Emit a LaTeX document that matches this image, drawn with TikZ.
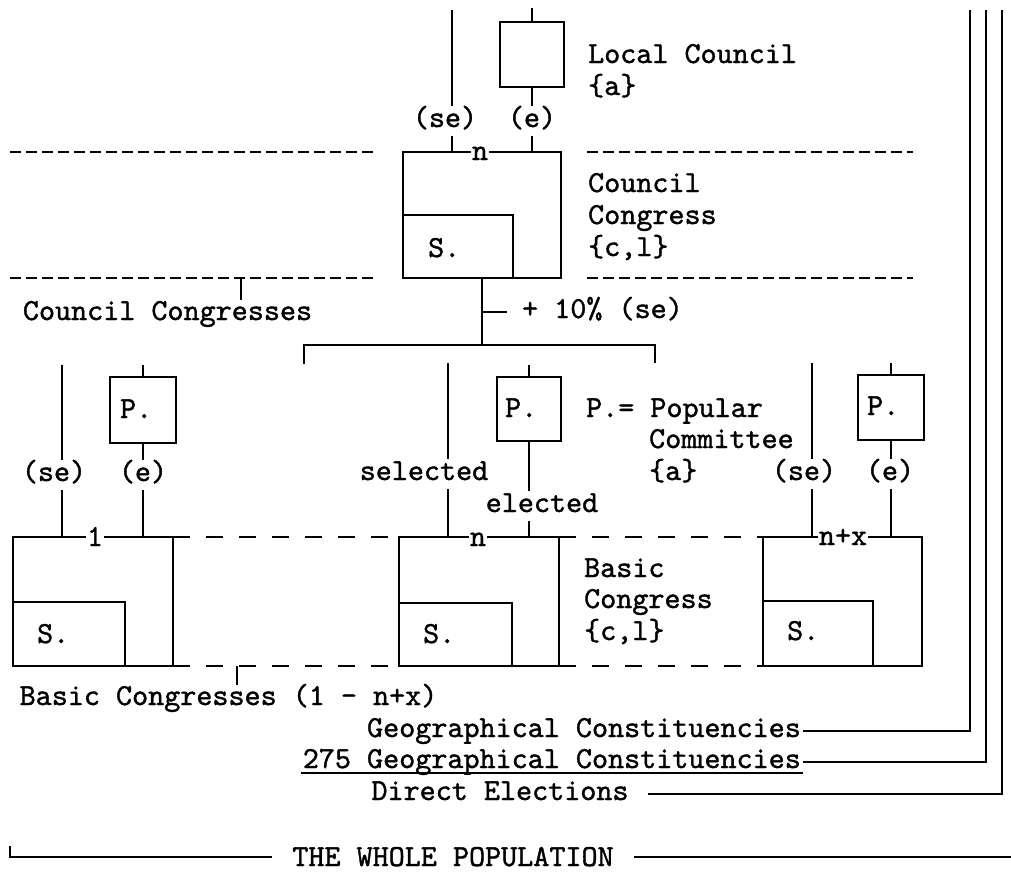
\documentclass[tikz,border=0pt]{standalone}
\usepackage{fontspec}
\newfontfamily\typew{lmmono10-regular.otf}[FakeBold=1.2]
\begin{document}
\begin{tikzpicture}[x=1pt,y=-1pt,line width=2.3pt,
  every node/.style={font=\typew\fontsize{30.6}{32}\selectfont},
  box/.style={draw,inner sep=0pt,outer sep=0pt},
  txt/.style={inner sep=1pt,text height=18pt,text depth=6pt},
  cut/.style={inner sep=2pt,text height=18pt,text depth=6pt},
  onl/.style={fill=white,inner sep=1pt},
  fine/.style={line width=2pt,dash pattern=on 11pt off 5pt},
  wide/.style={line width=2.2pt,dash pattern=on 17pt off 16pt}]
\useasboundingbox (0,0) rectangle (1011,871);

% ---------- top: local council / council congress ----------
\node[box,minimum width=64pt,minimum height=65pt] (lc) at (532,54.5) {};
\node[box,minimum width=158pt,minimum height=126pt] (cc) at (482,215) {};
\node[box,minimum width=110pt,minimum height=63pt] (ccs) at (458,246.5) {};
\node[txt,anchor=base west] (ccsl) at (426,257) {S.};
\node[onl,anchor=base] (ccn) at (480,160) {n};

\coordinate (t1) at (452,10);
\coordinate (t2) at (532,8);
\node[cut,anchor=base] (se0) at (445,127) {(se)};
\node[cut,anchor=base] (e0) at (532,127) {(e)};
\draw (t1) -- (t1 |- se0.north);
\draw (t1 |- se0.south) -- (t1 |- cc.north);
\draw (t2) -- (lc.north);
\draw (lc.south) -- (lc.south |- e0.north);
\draw (lc.south |- e0.south) -- (lc.south |- cc.north);

\node[txt,anchor=base west] (lcl1) at (586,63) {Local Council};
\node[txt,anchor=base west] (lcl2) at (586,95) {\{a\}};
\node[txt,anchor=base west] (ccl1) at (586,192) {Council};
\node[txt,anchor=base west] (ccl2) at (586,224) {Congress};
\node[txt,anchor=base west] (ccl3) at (586,256) {\{c,l\}};

\coordinate (d1a) at (10,152);  \coordinate (d1b) at (376,152);
\coordinate (d1c) at (587,152); \coordinate (d1d) at (913,152);
\coordinate (d2a) at (10,278);  \coordinate (d2b) at (376,278);
\coordinate (d2c) at (587,278); \coordinate (d2d) at (913,278);
\draw[fine] (d1a) -- (d1b); \draw[fine] (d1c) -- (d1d);
\draw[fine] (d2a) -- (d2b); \draw[fine] (d2c) -- (d2d);

\coordinate (tk1) at (241,278);
\node[txt,anchor=base] (ccsn) at (167.5,320) {Council Congresses};
\draw (tk1) -- (tk1 |- ccsn.north);

% ---------- distribution bar ----------
\coordinate (hbl) at (304,345); \coordinate (hbr) at (655,345);
\coordinate (hbl2) at (304,364); \coordinate (hbr2) at (655,363);
\draw (hbl2) -- (hbl) -- (hbr) -- (hbr2);
\draw (cc.south) -- (cc.south |- hbl);
\node[txt,anchor=base west] (pct) at (520,318) {+ 10\% (se)};
\draw (cc.south |- pct.west) -- ([xshift=-13pt]pct.west);

% ---------- left basic congress ----------
\node[box,minimum width=66pt,minimum height=66pt] (pl) at (143,410) {};
\node[txt,anchor=base west] (pll) at (118,418) {P.};
\node[box,minimum width=160pt,minimum height=129pt] (bl) at (93,601.5) {};
\node[box,minimum width=112pt,minimum height=64pt] (bls) at (69,634) {};
\node[txt,anchor=base west] (blsl) at (35,643) {S.};
\node[onl,anchor=base] (bl1) at (95,546) {1};

\coordinate (lse) at (62,365);
\coordinate (lpt) at (143,365);
\node[cut,anchor=base] (lsel) at (54,481) {(se)};
\node[cut,anchor=base] (lel) at (143,481) {(e)};
\draw (lse) -- (lse |- lsel.north);
\draw (lse |- lsel.south) -- (lse |- bl.north);
\draw (lpt) -- (pl.north);
\draw (pl.south) -- (pl.south |- lel.north);
\draw (pl.south |- lel.south) -- (pl.south |- bl.north);

% ---------- middle basic congress ----------
\node[box,minimum width=64pt,minimum height=64pt] (pm) at (529,409) {};
\node[txt,anchor=base west] (pml) at (503,417) {P.};
\node[box,minimum width=160pt,minimum height=129pt] (bm) at (479,601.5) {};
\node[box,minimum width=113pt,minimum height=63pt] (bms) at (455.5,634.5) {};
\node[txt,anchor=base west] (bmsl) at (421,643) {S.};
\node[onl,anchor=base] (bmn) at (478,546) {n};

\coordinate (mse) at (448,363);
\coordinate (mpt) at (529,365);
\node[cut,anchor=base] (msel) at (424,480) {selected};
\node[cut,anchor=base] (mel) at (542,512) {elected};
\draw (mse) -- (mse |- msel.north);
\draw (mse |- msel.south) -- (mse |- bm.north);
\draw (mpt) -- (pm.north);
\draw (pm.south) -- (pm.south |- mel.north);
\draw (pm.south |- mel.south) -- (pm.south |- bm.north);

\node[txt,anchor=base west] (pop1) at (584,417) {P.= Popular};
\node[txt,anchor=base west] (pop2) at (647,448) {Committee};
\node[txt,anchor=base west] (pop3) at (647,480) {\{a\}};
\node[txt,anchor=base west] (bc1) at (582,577) {Basic};
\node[txt,anchor=base west] (bc2) at (582,608) {Congress};
\node[txt,anchor=base west] (bc3) at (582,640) {\{c,l\}};

% ---------- right basic congress ----------
\node[box,minimum width=66pt,minimum height=65pt] (pr) at (891,407.5) {};
\node[txt,anchor=base west] (prl) at (865,415) {P.};
\node[box,minimum width=159pt,minimum height=129pt] (br) at (842.5,601.5) {};
\node[box,minimum width=110pt,minimum height=65pt] (brs) at (818,633.5) {};
\node[txt,anchor=base west] (brsl) at (785,640) {S.};
\node[onl,anchor=base] (brn) at (843,545) {n+x};

\coordinate (rse) at (812,363);
\coordinate (rpt) at (891,363);
\node[cut,anchor=base] (rsel) at (804,480) {(se)};
\node[cut,anchor=base] (rel) at (890,480) {(e)};
\draw (rse) -- (rse |- rsel.north);
\draw (rse |- rsel.south) -- (rse |- br.north);
\draw (rpt) -- (pr.north);
\draw (pr.south) -- (pr.south |- rel.north);
\draw (pr.south |- rel.south) -- (pr.south |- br.north);

% dashed links between basic congresses
\draw[wide] (bl.north east) -- (bm.north west);
\draw[wide] (bl.south east) -- (bm.south west);
\draw[wide] (bm.north east) -- (br.north west);
\draw[wide] (bm.south east) -- (br.south west);

\coordinate (tk2) at (237,666);
\node[txt,anchor=base] (bcs) at (228.5,705) {Basic Congresses (1 - n+x)};
\draw (tk2) -- (tk2 |- bcs.north);

% ---------- right-hand lines ----------
\coordinate (v1t) at (970,10);
\coordinate (v2t) at (986,10);
\coordinate (v3t) at (1002,10);
\node[txt,anchor=base east] (g1) at (803,737) {Geographical Constituencies};
\node[txt,anchor=base east] (g2) at (803,768) {275 Geographical Constituencies};
\node[txt,anchor=base] (de) at (500,800) {Direct Elections};
\draw (g1.east) -- (v1t |- g1.east) -- (v1t);
\draw (g2.east) -- (v2t |- g2.east) -- (v2t);
\draw[line width=1.6pt] ([yshift=-5pt]g2.base west) -- ([yshift=-5pt]g2.base east);
\draw ([xshift=17pt]de.east) -- (v3t |- de.east) -- (v3t);

% ---------- whole population ----------
\node[txt,anchor=base,text depth=0pt] (wp) at (453,866) {THE WHOLE POPULATION};
\coordinate (wpl) at (10,846);
\coordinate (wpr) at (1011,857);
\draw (wpl) -- (wpl |- wpr) -- ([xshift=-18pt]wp.west |- wpr);
\draw ([xshift=18pt]wp.east |- wpr) -- (wpr);
\end{tikzpicture}
\end{document}
